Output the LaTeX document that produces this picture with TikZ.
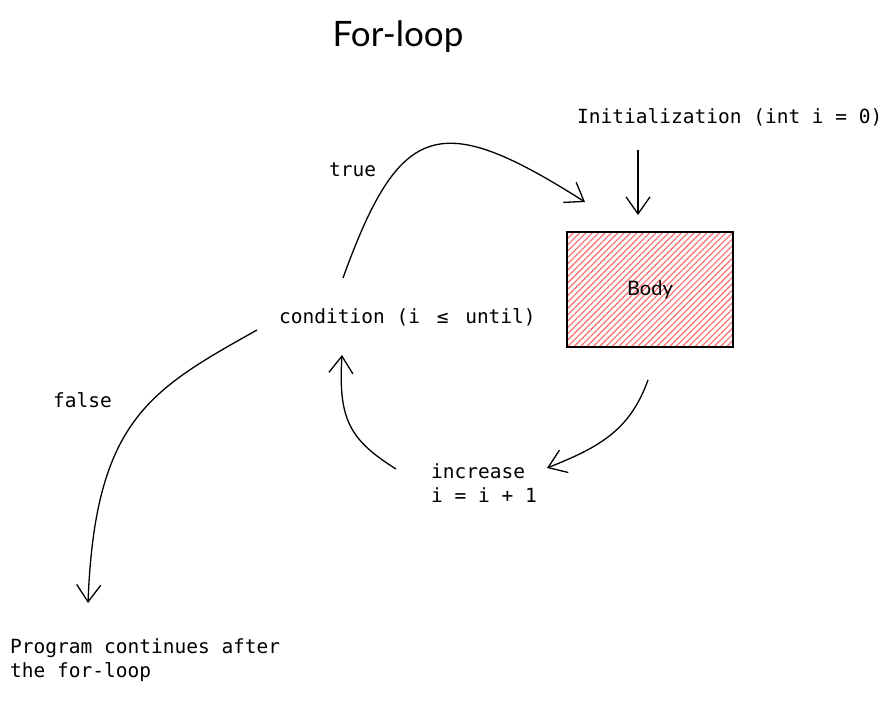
\documentclass[tikz,border=0pt]{standalone}
\usepackage{fontspec}
\setmonofont{DejaVu Sans Mono}
\newfontfamily\handfont{Lato}
\usetikzlibrary{arrows.meta,patterns.meta}
\definecolor{hatchred}{RGB}{248,120,120}

\begin{document}
\begin{tikzpicture}[x=1pt,y=-1pt,
    code/.style={font=\ttfamily\fontsize{19.5}{24}\selectfont,align=left,inner sep=0pt,anchor=west},
    flow/.style={line width=1.3pt,-{Straight Barb[length=17pt,width=24pt,line width=1.3pt]}},
  ]
      \useasboundingbox (0,0) rectangle (892,717);
      \node[font=\handfont\fontsize{35}{40}\selectfont] (title) at (398,37) {For-loop};
      \node[code] (init) at (577,117) {Initialization (int i = 0)};
      \node[draw,line width=1.5pt,minimum width=166pt,minimum height=115pt,
            pattern={Lines[angle=45,distance=4.5pt,line width=1.3pt]},pattern color=hatchred,
            font=\handfont\fontsize{20}{24}\selectfont] (body) at (650,289.5) {Body};
      \node[code] (cond) at (279,317) {condition (i {\kern5pt}≤{\kern5pt} until)};
      \node[code] (truelbl) at (329,170) {true};
      \node[code] (falselbl) at (53,400) {false};
      \node[code] (incr) at (431,483) {increase\\i = i + 1};
      \node[code] (prog) at (10,660) {Program continues after\\the for-loop};
      % loose ends of the sketched arrows
      \coordinate (initstart) at (638,150);
      \coordinate (initend) at (638,215);
      \coordinate (truestart) at (343,278);
      \coordinate (trueend) at (585,202);
      \coordinate (bodyout) at (648,380);
      \coordinate (incrin) at (547,468);
      \coordinate (incrout) at (396,469);
      \coordinate (condin) at (342,355);
      \coordinate (falsestart) at (257,330);
      \coordinate (falseend) at (88,603);
      \draw[flow] (initstart) -- (initend);
      \draw[flow] (truestart) .. controls (400,120) and (440,110) .. (trueend);
      \draw[flow] (bodyout) .. controls (630,430) and (600,447) .. (incrin);
      \draw[flow] (incrout) .. controls (350,440) and (338,420) .. (condin);
      \draw[flow] (falsestart) .. controls (150,390) and (95,420) .. (falseend);
    \end{tikzpicture}
\end{document}
